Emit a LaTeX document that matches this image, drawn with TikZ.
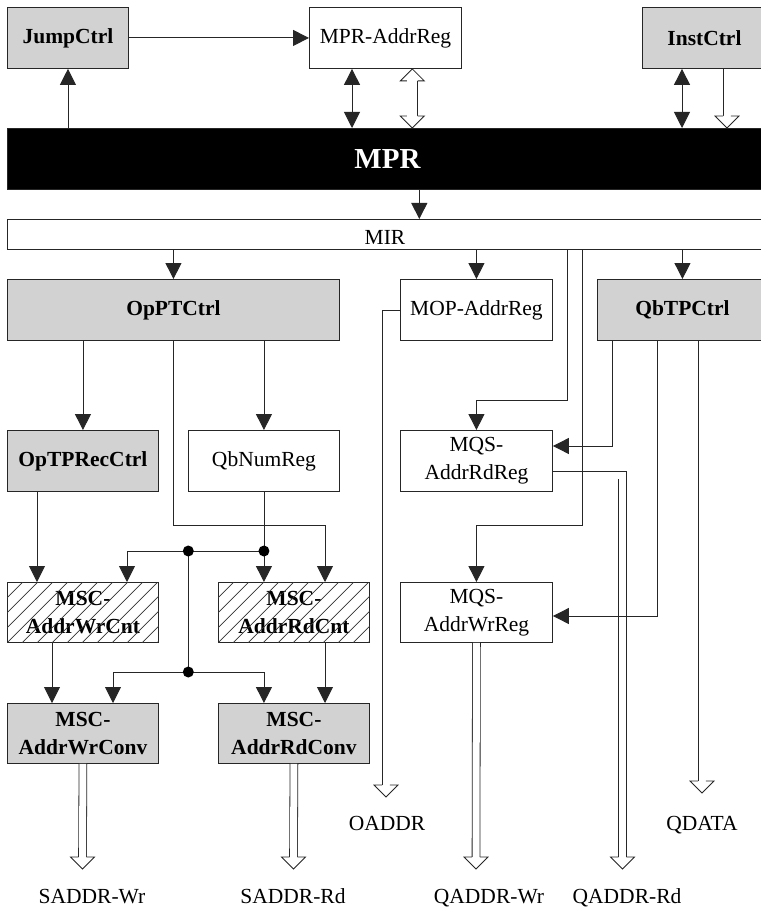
\documentclass[tikz,border=0pt]{standalone}
\usepackage{fontspec}
\setmainfont{Liberation Serif}
\usetikzlibrary{arrows.meta,calc}

% open arrow head pointing down / up at a tip coordinate; #1 = half shaft width
\newcommand\headdown[2][3.9]{%
  \draw[headst] ($(#2)+(-#1,-12)$) -- ($(#2)+(-12,-12)$) -- (#2) -- ($(#2)+(12,-12)$) -- ($(#2)+(#1,-12)$);}
\newcommand\headup[2][3.9]{%
  \draw[headst] ($(#2)+(-#1,12)$) -- ($(#2)+(-12,12)$) -- (#2) -- ($(#2)+(12,12)$) -- ($(#2)+(#1,12)$);}
% diagonal hatching inside a node
\newcommand\hatchnode[1]{%
  \begin{scope}
    \clip (#1.south west) rectangle (#1.north east);
    \foreach \k in {-75,-60,...,165}
      \draw[hatchln] ($(#1.south west)+(\k,0)$) -- ++(80,-80);
  \end{scope}}

\begin{document}
\begin{tikzpicture}[x=1pt,y=-1pt,
  txt/.style={font=\fontsize{21.5}{28}\selectfont},
  blk/.style={txt, draw=black!85, line width=0.9pt, anchor=north west,
              inner sep=0pt, align=center},
  wh/.style 2 args={minimum width=#1pt, minimum height=#2pt},
  wbox/.style={blk, fill=white},
  gbox/.style={blk, fill=gray!35!white, font=\fontsize{21.5}{28}\selectfont\bfseries},
  hbox/.style={blk, font=\fontsize{21.5}{28}\selectfont\bfseries},
  hatchln/.style={draw=black!80, line width=0.7pt},
  lab/.style={txt, anchor=base, inner sep=0pt},
  line/.style={draw=black!85, line width=0.9pt},
  arr/.style={line, -{Triangle[length=16pt,width=16pt]}},
  darr/.style={line, {Triangle[length=16pt,width=16pt]}-{Triangle[length=16pt,width=16pt]}},
  bus/.style={draw=black!85, line width=0.8pt, double=white, double distance=#1},
  bus/.default=7pt,
  headst/.style={fill=white, draw=black!85, line width=0.8pt, line join=miter},
  dot/.style={fill=black}]

\fill[white] (0,0) rectangle (760,909);
\useasboundingbox (0,0) rectangle (760,909);

% ---- blocks ----
\node[gbox, wh={121}{61}] (jump)    at (7,7)     {JumpCtrl};
\node[wbox, wh={152}{61}] (mpraddr) at (309,7)   {MPR-AddrReg};
\node[gbox, wh={124}{61}] (inst)    at (642,7)   {InstCtrl};
\node[blk, fill=black, text=white, wh={760}{61},
      font=\fontsize{29}{34}\selectfont\bfseries] (mpr) at (7,128) {MPR};
\node[wbox, wh={760}{30}] (mir)     at (7,219)   {};
\node[txt, inner sep=0pt] (mirtxt)  at (385,237) {MIR};
\node[gbox, wh={332}{61}] (opptc)   at (7,279)   {OpPTCtrl};
\node[wbox, wh={152}{61}] (mopaddr) at (400,279) {MOP-AddrReg};
\node[gbox, wh={170}{61}] (qbtpc)   at (597,279) {QbTPCtrl};
\node[gbox, wh={151}{61}] (optprec) at (7,430)   {OpTPRecCtrl};
\node[wbox, wh={151}{61}] (qbnum)   at (188,430) {QbNumReg};
\node[wbox, wh={152}{61}] (mqsrd)   at (400,430) {MQS-\\AddrRdReg};
\node[hbox, wh={151}{60}] (wrcnt)   at (7,582)   {MSC-\\AddrWrCnt};
\node[hbox, wh={151}{60}] (rdcnt)   at (218,582) {MSC-\\AddrRdCnt};
\node[wbox, wh={152}{60}] (mqswr)   at (400,582) {MQS-\\AddrWrReg};
\node[gbox, wh={151}{60}] (wrconv)  at (7,703)   {MSC-\\AddrWrConv};
\node[gbox, wh={151}{60}] (rdconv)  at (218,703) {MSC-\\AddrRdConv};
\hatchnode{wrcnt}
\hatchnode{rdcnt}

% ---- output labels ----
\node[lab] (lSW) at (92,903)  {SADDR-Wr};
\node[lab] (lSR) at (293,903) {SADDR-Rd};
\node[lab] (lOA) at (387,830) {OADDR};
\node[lab] (lQW) at (489,903) {QADDR-Wr};
\node[lab] (lQR) at (627,903) {QADDR-Rd};
\node[lab] (lQD) at (702,830) {QDATA};

% ---- routing columns and rows ----
\coordinate (cA) at (352,0);
\coordinate (cB) at (412.3,0);
\coordinate (cC) at (682,0);
\coordinate (cD) at (727,0);
\coordinate (cE) at (419.3,0);
\coordinate (cF) at (567,0);
\coordinate (cG) at (582,0);
\coordinate (cH) at (612,0);
\coordinate (cI) at (657,0);
\coordinate (cJ) at (702,0);
\coordinate (cK) at (325,0);
\coordinate (cL) at (37,0);
\coordinate (cM) at (127,0);
\coordinate (cN) at (52,0);
\coordinate (cO) at (113,0);
\coordinate (cQ) at (386,0);
\coordinate (cR) at (622.5,0);
\coordinate (rA) at (0,400);
\coordinate (rB) at (0,525);
\coordinate (rC) at (0,446);
\coordinate (rD) at (0,616);
\coordinate (rE) at (0,551);
\coordinate (rF) at (0,672);
\coordinate (rG) at (0,314);
\coordinate (rH) at (0,475);

% ---- data buses (open arrows) ----
\coordinate (tBu) at (mpraddr.south -| cB);
\coordinate (tBd) at (mpr.north -| cB);
\draw[bus=10pt] ($(tBu)+(0,11)$) -- ($(tBd)+(0,-11)$);
\headup[5.4]{tBu}
\headdown[5.4]{tBd}

\coordinate (tI) at (mpr.north -| cD);
\draw[bus] (inst.south -| cD) -- ($(tI)+(0,-11)$);
\headdown{tI}

\coordinate (tOA) at (386,797);
\draw[bus] (mopaddr.west |- rG) -- (cQ |- rG) -- ($(tOA)+(0,-11)$);
\headdown{tOA}

\coordinate (tQD) at (702,793);
\draw[bus] (qbtpc.south -| cJ) -- ($(tQD)+(0,-11)$);
\headdown{tQD}

\coordinate (tQR) at (622.5,869);
\draw[bus] (mqsrd.east |- rH) -- (cR |- rH) -- ($(tQR)+(0,-11)$);
\headdown{tQR}

\coordinate (tQW) at (476,869);
\draw[bus] (mqswr.south) -- ($(tQW)+(0,-11)$);
\headdown{tQW}

\coordinate (tSW) at (82.5,869);
\draw[bus] (wrconv.south) -- ($(tSW)+(0,-11)$);
\headdown{tSW}

\coordinate (tSR) at (293.5,869);
\draw[bus] (rdconv.south) -- ($(tSR)+(0,-11)$);
\headdown{tSR}

% ---- control connections ----
\draw[arr]  (jump.east) -- (mpraddr.west);
\draw[arr]  (mpr.north -| jump.south) -- (jump.south);
\draw[darr] (mpraddr.south -| cA) -- (mpr.north -| cA);
\draw[darr] (inst.south -| cC) -- (mpr.north -| cC);
\draw[arr]  (mpr.south -| cE) -- (mir.north -| cE);
\draw[arr]  (mir.south -| opptc.north) -- (opptc.north);
\draw[arr]  (mir.south -| mopaddr.north) -- (mopaddr.north);
\draw[arr]  (mir.south -| qbtpc.north) -- (qbtpc.north);

\draw[arr] (mir.south -| cF) -- (cF |- rA) -- (mqsrd.north |- rA) -- (mqsrd.north);
\draw[arr] (mir.south -| cG) -- (cG |- rB) -- (mqswr.north |- rB) -- (mqswr.north);
\draw[arr] (qbtpc.south -| cH) -- (cH |- rC) -- (mqsrd.east |- rC);
\draw[arr] (qbtpc.south -| cI) -- (cI |- rD) -- (mqswr.east |- rD);

\draw[arr] (opptc.south -| optprec.north) -- (optprec.north);
\draw[arr] (opptc.south -| qbnum.north) -- (qbnum.north);
\draw[arr] (opptc.south) -- (opptc.south |- rB) -- (cK |- rB) -- (rdcnt.north -| cK);
\draw[arr] (optprec.south -| cL) -- (wrcnt.north -| cL);

\coordinate (j1) at (188.3,551);
\coordinate (j2) at (qbnum.south |- rE);
\coordinate (j3) at (188.3,672);
\draw[arr]  (qbnum.south) -- (rdcnt.north -| qbnum.south);
\draw[arr]  (j2) -- (cM |- rE) -- (wrcnt.north -| cM);
\draw[line] (j1) -- (j3);
\draw[arr]  (j3) -- (cO |- rF) -- (wrconv.north -| cO);
\draw[arr]  (j3) -- (qbnum.south |- rF) -- (rdconv.north -| qbnum.south);
\draw[arr]  (wrcnt.south -| cN) -- (wrconv.north -| cN);
\draw[arr]  (rdcnt.south -| cK) -- (rdconv.north -| cK);
\fill[dot] (j1) circle[radius=5.5pt];
\fill[dot] (j2) circle[radius=5.5pt];
\fill[dot] (j3) circle[radius=5.5pt];

\end{tikzpicture}
\end{document}
